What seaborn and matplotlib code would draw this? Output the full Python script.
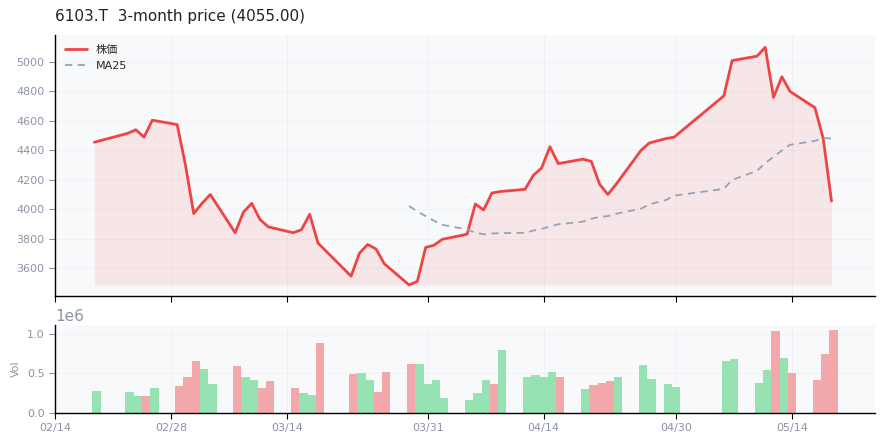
import matplotlib
matplotlib.use("Agg")
import matplotlib.pyplot as plt
import matplotlib.dates as mdates
import seaborn as sns
import pandas as pd
import numpy as np

day_offsets = [5, 9, 10, 11, 12, 15, 16, 17, 18, 19, 22, 23, 24, 25, 26, 29, 30, 31, 32,
               36, 37, 38, 39, 40, 43, 44, 45, 46, 47, 50, 51, 52, 53, 54, 57, 58, 59, 60, 61,
               64, 65, 66, 67, 68, 71, 72, 74, 75, 81, 82, 85, 86, 87, 88, 89, 92, 93, 94]
close = [4455, 4515, 4540, 4490, 4605, 4575, 4300, 3970, 4040, 4100, 3840, 3980, 4040, 3930, 3880,
         3840, 3860, 3965, 3770, 3545, 3700, 3760, 3730, 3630, 3485, 3510, 3740, 3755, 3795,
         3830, 4035, 3995, 4110, 4120, 4135, 4230, 4280, 4425, 4310, 4340, 4325, 4170, 4100, 4170,
         4400, 4450, 4480, 4490, 4770, 5010, 5040, 5100, 4760, 4900, 4800, 4690, 4480, 4055]
volume = [0.28, 0.26, 0.21, 0.21, 0.31, 0.34, 0.46, 0.66, 0.56, 0.36, 0.59, 0.46, 0.42, 0.32, 0.40,
          0.32, 0.25, 0.23, 0.88, 0.49, 0.50, 0.42, 0.26, 0.52, 0.62, 0.62, 0.36, 0.41, 0.19,
          0.17, 0.25, 0.41, 0.37, 0.79, 0.46, 0.48, 0.46, 0.52, 0.46, 0.30, 0.35, 0.38, 0.40, 0.45,
          0.60, 0.43, 0.37, 0.33, 0.65, 0.68, 0.38, 0.54, 1.03, 0.70, 0.50, 0.42, 0.74, 1.05]
# direction per bar ('G' up, 'R' down)
vol_dir = ("G" "GGRG" "RRRGG" "RGGRR" "RGGR" "RGGRR" "RGGGG" "GGGRG" "GGGGR" "GRRRG"
           "GG" "GG" "GG" "GGRGR" "RRR")

base = pd.Timestamp("2025-02-14")
dates = [base + pd.Timedelta(days=d - 1) for d in day_offsets]
df = pd.DataFrame({"date": dates, "close": close, "vol": np.array(volume) * 1e6,
                   "dir": list(vol_dir)})
df["ma25"] = df["close"].rolling(25).mean()
df["x_line"] = df["date"] + pd.Timedelta(hours=18)
df["x_bar"] = df["date"] + pd.Timedelta(days=1)

sns.set_theme(style="whitegrid")
plt.rcParams["font.family"] = ["DejaVu Sans", "Noto Sans CJK JP"]

fig = plt.figure(figsize=(8.85, 4.45), dpi=100)
ax = fig.add_axes([55/885, 1-296/445, 820/885, 261/445])
axv = fig.add_axes([55/885, 1-413/445, 820/885, 88/445], sharex=ax)

for a in (ax, axv):
    a.set_facecolor("#f8f9fb")
    a.grid(True, color="#e8ebf0", linewidth=0.6, alpha=0.6)
    for s in ("top", "right"):
        a.spines[s].set_visible(False)
    for s in ("left", "bottom"):
        a.spines[s].set_color("black")
        a.spines[s].set_linewidth(1.0)
    a.tick_params(colors="#8a94a6", labelsize=8, length=4, width=0.8, direction="out",
                  bottom=True, left=True)
    a.tick_params(axis="x", color="black")

red = "#ef4444"
ax.fill_between(df["x_line"], df["close"], df["close"].min(), color=red, alpha=0.1, linewidth=0)
sns.lineplot(data=df, x="x_line", y="close", ax=ax, color=red, linewidth=2, label="株価")
sns.lineplot(data=df, x="x_line", y="ma25", ax=ax, color="#94a3b8", linewidth=1.3,
             linestyle=(0, (4, 3)), label="MA25")
ax.set_ylim(3410, 5184)
ax.set_xlabel("")
ax.set_ylabel("")
ax.legend(loc="upper left", frameon=False, fontsize=8)
ax.set_title("6103.T  3-month price (4055.00)", loc="left", fontsize=11, color="#222222", pad=10)
plt.setp(ax.get_xticklabels(), visible=False)

colors = ["#86dfa6" if d == "G" else "#f29a9c" for d in df["dir"]]
axv.bar(df["x_bar"], df["vol"], width=1.0, color=colors, alpha=0.85, linewidth=0)
axv.set_ylim(0, 1.11e6)
axv.set_yticks([0, 0.5e6, 1.0e6])
axv.set_ylabel("Vol", color="#8a94a6", fontsize=8)
axv.set_xlabel("")
axv.yaxis.get_offset_text().set_color("#8a94a6")
axv.yaxis.get_offset_text().set_fontsize(11)

ticks = [pd.Timestamp(t) for t in ["2025-02-14", "2025-02-28", "2025-03-14", "2025-03-31",
                                    "2025-04-14", "2025-04-30", "2025-05-14"]]
axv.set_xticks(ticks)
axv.xaxis.set_major_formatter(mdates.DateFormatter("%m/%d"))
axv.set_xlim(pd.Timestamp("2025-02-14"), pd.Timestamp("2025-05-24"))

fig.savefig("out.png", dpi=100)
